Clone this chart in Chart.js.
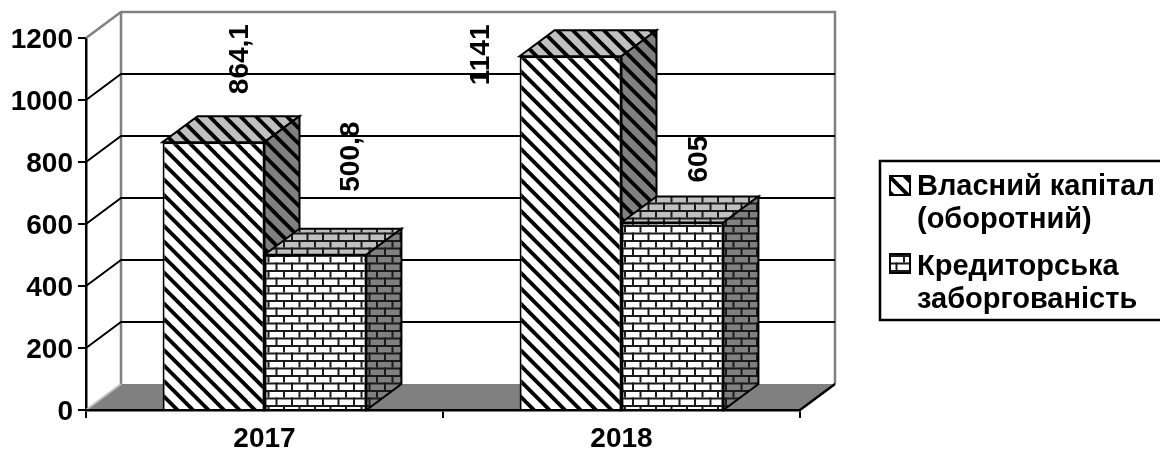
<!DOCTYPE html>
<html lang="uk">
<head>
  <meta charset="UTF-8" />
  <title>Власний капітал та кредиторська заборгованість</title>
  <script src="https://cdn.jsdelivr.net/npm/chart.js"></script>
  <style>
    html, body { margin: 0; padding: 0; background: #fff; }
    #wrap { width: 1160px; height: 452px; overflow: hidden; }
  </style>
</head>
<body>
  <div id="wrap"><canvas id="capitalChart" width="1160" height="452"></canvas></div>
  <script>
    // Data
    const categories = ['2017', '2018'];
    const equityValues = [864.1, 1141];
    const payableValues = [500.8, 605];
    const yTicks = [0, 200, 400, 600, 800, 1000, 1200];
    const legendLines = [['Власний капітал', '(оборотний)'], ['Кредиторська', 'заборгованість']];

    // Hand-placed value labels: [dx from bar centre, dy of label start from bar top]
    const equityLabelShift = [[27, -48], [-89, 29]];
    const payableLabelShift = [[36, -63], [27, -40]];

    // Box look
    const depthX = 35;
    const depthY = 26;
    const fontFamily = '"Liberation Sans", Arial, sans-serif';
    const WALL_GREY = '#808080';

    // Hatch tiles
    function stripeTile(bg) {
      const c = document.createElement('canvas');
      c.width = c.height = 31;
      const g = c.getContext('2d');
      g.fillStyle = bg;
      g.fillRect(0, 0, 31, 31);
      g.strokeStyle = '#000';
      g.lineWidth = 3.8;
      [-31, -15.5, 0, 15.5, 31].forEach(off => {
        g.beginPath();
        g.moveTo(off - 2, -2);
        g.lineTo(off + 33, 33);
        g.stroke();
      });
      return g.createPattern(c, 'repeat');
    }

    function brickTile(bg) {
      const c = document.createElement('canvas');
      c.width = 31;
      c.height = 15;
      const g = c.getContext('2d');
      g.fillStyle = bg;
      g.fillRect(0, 0, 31, 15);
      g.fillStyle = '#1a1a1a';
      g.fillRect(0, 0, 31, 2);
      g.fillRect(0, 7.5, 31, 2);
      [4, 19.5].forEach(bx => g.fillRect(bx, 0, 2, 7.5));
      [12, 27.5].forEach(bx => g.fillRect(bx, 7.5, 2, 7.5));
      return g.createPattern(c, 'repeat');
    }

    const stripes = { front: stripeTile('#fff'), top: stripeTile('#c0c0c0'), side: stripeTile('#808080') };
    const bricks = { front: brickTile('#fff'), top: brickTile('#c0c0c0'), side: brickTile('#808080') };

    function poly(ctx, pts, fill, stroke, width) {
      ctx.beginPath();
      pts.forEach((p, i) => (i ? ctx.lineTo(p[0], p[1]) : ctx.moveTo(p[0], p[1])));
      ctx.closePath();
      if (fill) { ctx.fillStyle = fill; ctx.fill(); }
      if (stroke) { ctx.strokeStyle = stroke; ctx.lineWidth = width; ctx.stroke(); }
    }

    // Back wall, floor and the top/side faces of the bars
    const boxPlugin = {
      id: 'box3d',
      beforeDatasetsDraw(chart) {
        const { ctx, scales: { x, y } } = chart;
        const zero = y.getPixelForValue(0);
        const top = y.getPixelForValue(1200);
        ctx.save();

        poly(ctx, [[x.left, zero], [x.left + depthX, zero - depthY], [x.right + depthX, zero - depthY], [x.right, zero]], WALL_GREY);
        ctx.lineCap = 'butt';
        ctx.strokeStyle = WALL_GREY;
        ctx.lineWidth = 2.5;
        ctx.beginPath();
        ctx.moveTo(x.left, top);
        ctx.lineTo(x.left + depthX, top - depthY);
        ctx.lineTo(x.right + depthX, top - depthY);
        ctx.lineTo(x.right + depthX, zero - depthY);
        ctx.moveTo(x.left + depthX, top - depthY);
        ctx.lineTo(x.left + depthX, zero - depthY);
        ctx.stroke();

        ctx.strokeStyle = '#000';
        ctx.lineWidth = 2;
        yTicks.slice(1, -1).forEach(v => {
          const py = y.getPixelForValue(v);
          ctx.beginPath();
          ctx.moveTo(x.left, py);
          ctx.lineTo(x.left + depthX, py - depthY);
          ctx.lineTo(x.right + depthX, py - depthY);
          ctx.stroke();
        });
        ctx.strokeStyle = '#c0c0c0';
        ctx.beginPath();
        ctx.moveTo(x.left, zero);
        ctx.lineTo(x.left + depthX, zero - depthY);
        ctx.stroke();
        ctx.strokeStyle = '#000';
        ctx.lineWidth = 2.5;
        ctx.beginPath();
        ctx.moveTo(x.right, zero);
        ctx.lineTo(x.right + depthX, zero - depthY);
        ctx.stroke();

        [[0, stripes], [1, bricks]].forEach(([index, fills]) => {
          chart.getDatasetMeta(index).data.forEach(bar => {
            const half = bar.width / 2;
            const l = bar.x - half, r = bar.x + half;
            poly(ctx, [[l, bar.y], [l + depthX, bar.y - depthY], [r + depthX, bar.y - depthY], [r, bar.y]], fills.top, '#000', 2);
            poly(ctx, [[r, bar.y], [r + depthX, bar.y - depthY], [r + depthX, zero - depthY], [r, zero]], fills.side, '#000', 2);
          });
        });
        ctx.restore();
      },
      afterDatasetsDraw(chart) {
        const { ctx } = chart;
        ctx.save();
        ctx.fillStyle = '#000';
        ctx.font = 'bold 28px ' + fontFamily;
        ctx.textBaseline = 'middle';
        ctx.textAlign = 'left';
        [equityLabelShift, payableLabelShift].forEach((shift, index) => {
          const dataset = chart.data.datasets[index];
          chart.getDatasetMeta(index).data.forEach((bar, i) => {
            ctx.save();
            ctx.translate(bar.x + shift[i][0], bar.y + shift[i][1]);
            ctx.rotate(-Math.PI / 2);
            ctx.fillText(String(dataset.data[i]).replace('.', ','), 0, 0);
            ctx.restore();
          });
        });
        ctx.restore();
      },
      afterDraw(chart) {
        const { ctx } = chart;
        ctx.save();
        ctx.strokeStyle = '#000';
        ctx.lineWidth = 2.5;
        ctx.strokeRect(880, 161, 290, 159);

        const swatches = [[890, 176, stripes.front], [890, 254, bricks.front]];
        const baselines = [[195, 228], [275, 308]];
        ctx.font = 'bold 29px ' + fontFamily;
        ctx.textBaseline = 'alphabetic';
        legendLines.forEach((lines, i) => {
          const [sx, sy, fill] = swatches[i];
          ctx.fillStyle = fill;
          ctx.fillRect(sx, sy, 20, 19);
          ctx.lineWidth = 2;
          ctx.strokeRect(sx, sy, 20, 19);
          ctx.fillStyle = '#000';
          lines.forEach((line, k) => ctx.fillText(line, 917, baselines[i][k]));
        });
        ctx.restore();
      }
    };

    new Chart(document.getElementById('capitalChart'), {
      type: 'bar',
      data: {
        labels: categories,
        datasets: [
          { label: legendLines[0].join(' '), data: equityValues, backgroundColor: stripes.front, borderColor: '#000', borderWidth: 2, borderSkipped: 'bottom' },
          { label: legendLines[1].join(' '), data: payableValues, backgroundColor: bricks.front, borderColor: '#000', borderWidth: 2, borderSkipped: 'bottom' }
        ]
      },
      options: {
        responsive: false,
        animation: false,
        layout: { padding: { left: 0, right: 360, top: 38, bottom: 0 } },
        datasets: { bar: { barPercentage: 1, categoryPercentage: 0.571 } },
        plugins: { legend: { display: false }, tooltip: { enabled: false } },
        scales: {
          x: {
            afterFit(scale) { scale.height = 42; },
            grid: { offset: true, drawOnChartArea: false, color: '#000', lineWidth: 2, tickLength: 8 },
            border: { color: '#000', width: 2.5, z: 1 },
            ticks: { color: '#000', padding: 4, font: { family: fontFamily, weight: 'bold', size: 28 } }
          },
          y: {
            min: 0,
            max: 1200,
            afterFit(scale) { scale.width = 86; },
            afterBuildTicks(scale) { scale.ticks = yTicks.map(value => ({ value })); },
            grid: { drawOnChartArea: false, color: '#000', lineWidth: 2, tickLength: 8 },
            border: { color: '#000', width: 2.5 },
            ticks: { color: '#000', padding: 5, labelOffset: 2, callback: value => String(value), font: { family: fontFamily, weight: 'bold', size: 28 } }
          }
        }
      },
      plugins: [boxPlugin]
    });
  </script>
</body>
</html>
